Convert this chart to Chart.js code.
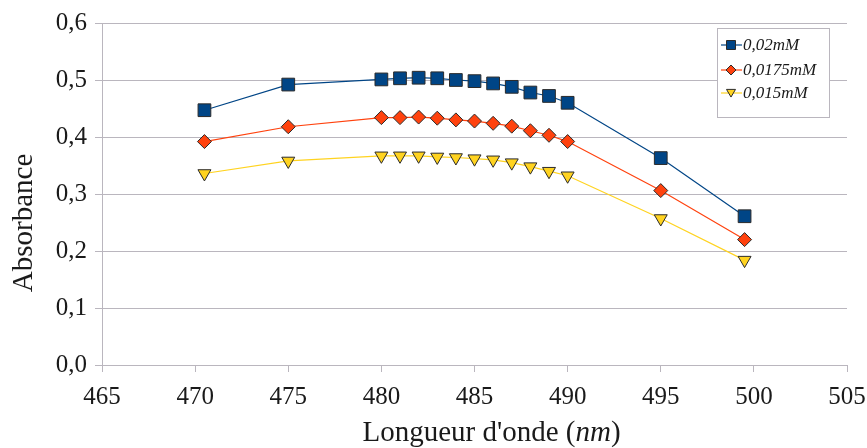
<!DOCTYPE html>
<html>
<head>
<meta charset="utf-8">
<script src="https://cdn.jsdelivr.net/npm/chart.js@4/dist/chart.umd.min.js"></script>
<style>
  body { margin: 0; background: #fff; }
  #box { width: 867px; height: 448px; }
</style>
</head>
<body>
<div id="box"><canvas id="absChart" width="867" height="448"></canvas></div>
<script>
// Longueurs d'onde mesurées (nm)
const longueurs = [470.5, 475, 480, 481, 482, 483, 484, 485, 486, 487, 488, 489, 490, 495, 499.5];

// Absorbance pour chaque concentration
const abs002 = [0.447, 0.492, 0.501, 0.503, 0.504, 0.503, 0.500, 0.498, 0.494, 0.488, 0.478, 0.472, 0.460, 0.363, 0.261];
const abs00175 = [0.392, 0.418, 0.434, 0.434, 0.435, 0.433, 0.430, 0.428, 0.424, 0.419, 0.411, 0.403, 0.392, 0.306, 0.220];
const abs0015 = [0.336, 0.358, 0.367, 0.367, 0.367, 0.365, 0.364, 0.362, 0.360, 0.355, 0.348, 0.340, 0.332, 0.257, 0.184];

const serieNoms = ['0,02mM', '0,0175mM', '0,015mM'];

// Axes
const xMin = 465, xMax = 505, xPas = 5;
const yMin = 0, yMax = 0.6, yPas = 0.1;
const titreY = 'Absorbance';
const titreX = ["Longueur d'onde (", 'nm', ')'];

const gris = '#bab6be';
const serif = "'Liberation Serif', serif";

Chart.defaults.font.family = serif;
Chart.defaults.font.size = 25;
Chart.defaults.color = '#1a1a1a';

function points(valeurs) {
    return longueurs.map((x, i) => ({ x: x, y: valeurs[i] }));
}

const datasets = [
    { label: serieNoms[0], data: points(abs002), borderColor: '#004586', backgroundColor: '#004586',
      pointStyle: 'rect', pointRadius: 9, pointRotation: 0 },
    { label: serieNoms[1], data: points(abs00175), borderColor: '#ff420e', backgroundColor: '#ff420e',
      pointStyle: 'rectRot', pointRadius: 7, pointRotation: 0 },
    { label: serieNoms[2], data: points(abs0015), borderColor: '#ffd320', backgroundColor: '#ffd320',
      pointStyle: 'triangle', pointRadius: 7.5, pointRotation: 180 }
].map(d => Object.assign(d, {
    borderWidth: 1.2,
    pointBackgroundColor: d.backgroundColor,
    pointBorderColor: '#2b2b2b',
    pointBorderWidth: 1,
    pointHoverRadius: d.pointRadius,
    tension: 0
}));

// Dessin d'un marqueur pour la légende
function marqueur(ctx, style, x, y, r) {
    ctx.beginPath();
    if (style === 'rect') {
        ctx.rect(x - r, y - r, 2 * r, 2 * r);
    } else if (style === 'rectRot') {
        ctx.moveTo(x, y - r); ctx.lineTo(x + r, y); ctx.lineTo(x, y + r); ctx.lineTo(x - r, y);
        ctx.closePath();
    } else {
        ctx.moveTo(x - r, y - r * 0.8); ctx.lineTo(x + r, y - r * 0.8); ctx.lineTo(x, y + r * 0.9);
        ctx.closePath();
    }
    ctx.fill();
    ctx.stroke();
}

// Légende et titres des axes
const decor = {
    id: 'decor',
    afterDraw(chart) {
        const ctx = chart.ctx;
        const area = chart.chartArea;

        // légende encadrée
        const bx = area.right - 130, by = area.top + 5;
        ctx.save();
        ctx.fillStyle = '#fff';
        ctx.fillRect(bx, by, 112, 89);
        ctx.strokeStyle = gris;
        ctx.lineWidth = 1;
        ctx.strokeRect(bx + 0.5, by + 0.5, 112, 89);
        const rangs = [17, 42, 65];
        chart.data.datasets.forEach((ds, i) => {
            const y = by + rangs[i];
            ctx.strokeStyle = ds.borderColor;
            ctx.lineWidth = 1.2;
            ctx.beginPath();
            ctx.moveTo(bx + 4, y);
            ctx.lineTo(bx + 25, y);
            ctx.stroke();
            ctx.fillStyle = ds.backgroundColor;
            ctx.strokeStyle = '#2b2b2b';
            ctx.lineWidth = 1;
            marqueur(ctx, ds.pointStyle, bx + 14, y, ds.pointStyle === 'rectRot' ? 5 : 4.5);
            ctx.fillStyle = '#1a1a1a';
            ctx.font = 'italic 17px ' + serif;
            ctx.textBaseline = 'middle';
            ctx.textAlign = 'left';
            ctx.fillText(ds.label, bx + 26, y + 1);
        });

        // titre de l'axe Y
        ctx.fillStyle = '#1a1a1a';
        ctx.font = '29px ' + serif;
        ctx.translate(24, 223);
        ctx.rotate(-Math.PI / 2);
        ctx.textAlign = 'center';
        ctx.textBaseline = 'middle';
        ctx.fillText(titreY, 0, 0);
        ctx.restore();

        // titre de l'axe X (nm en italique)
        ctx.save();
        ctx.fillStyle = '#1a1a1a';
        ctx.textBaseline = 'alphabetic';
        ctx.textAlign = 'left';
        const fonts = ['29px ' + serif, 'italic 29px ' + serif, '29px ' + serif];
        let largeur = 0;
        titreX.forEach((t, i) => { ctx.font = fonts[i]; largeur += ctx.measureText(t).width; });
        let x = (area.left + area.right) / 2 + 17 - largeur / 2;
        titreX.forEach((t, i) => {
            ctx.font = fonts[i];
            ctx.fillText(t, x, 441);
            x += ctx.measureText(t).width;
        });
        ctx.restore();
    }
};

const config = {
    type: 'line',
    data: { datasets: datasets },
    options: {
        responsive: false,
        animation: false,
        layout: { padding: { left: 0, right: 20, top: 23, bottom: 0 } },
        plugins: {
            legend: { display: false },
            tooltip: { enabled: false }
        },
        scales: {
            x: {
                type: 'linear',
                min: xMin, max: xMax,
                ticks: {
                    stepSize: xPas,
                    padding: 10,
                    color: '#1a1a1a',
                    font: { family: serif, size: 25 },
                    maxRotation: 0,
                    callback: v => String(v)
                },
                grid: { drawOnChartArea: false, tickLength: 7, color: gris },
                border: { color: gris },
                afterFit: s => { s.height = 83; s.paddingLeft = 0; s.paddingRight = 0; }
            },
            y: {
                min: yMin, max: yMax,
                ticks: {
                    stepSize: yPas,
                    padding: 8,
                    color: '#1a1a1a',
                    font: { family: serif, size: 25 },
                    callback: v => v.toFixed(1).replace('.', ',')
                },
                grid: { color: gris, tickLength: 7 },
                border: { color: gris },
                afterFit: s => { s.width = 102; s.paddingTop = 0; s.paddingBottom = 0; }
            }
        }
    },
    plugins: [decor]
};

const absChart = new Chart(document.getElementById('absChart'), config);
</script>
</body>
</html>
